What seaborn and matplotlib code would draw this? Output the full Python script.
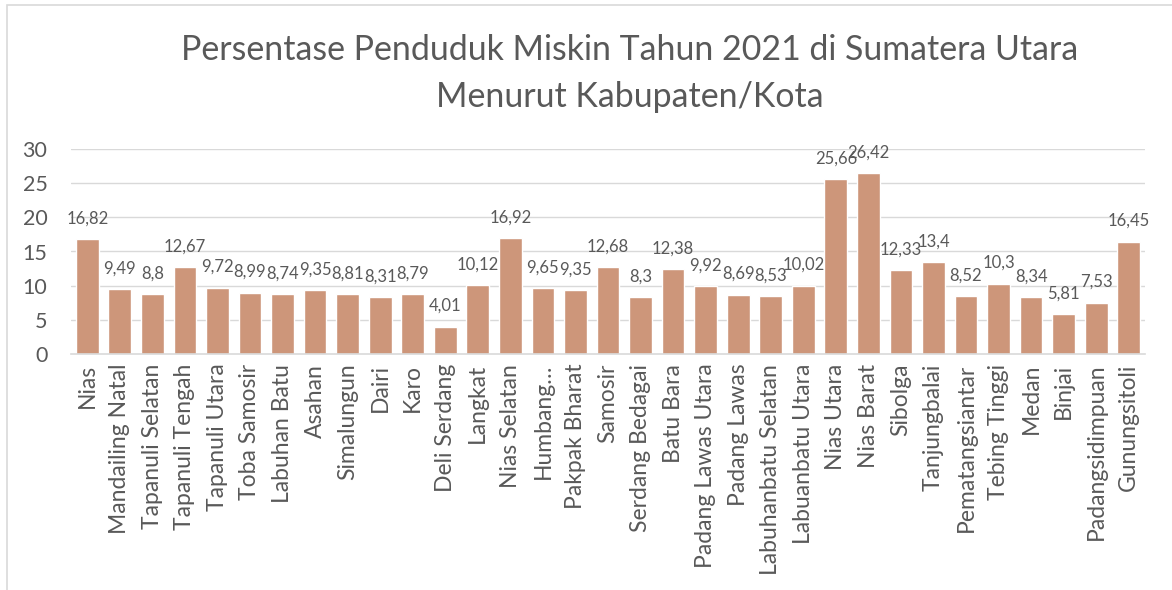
import matplotlib
matplotlib.use("Agg")
import matplotlib.pyplot as plt
import seaborn as sns
import pandas as pd
from matplotlib.patches import Rectangle

categories = ["Nias", "Mandailing Natal", "Tapanuli Selatan", "Tapanuli Tengah", "Tapanuli Utara",
              "Toba Samosir", "Labuhan Batu", "Asahan", "Simalungun", "Dairi", "Karo",
              "Deli Serdang", "Langkat", "Nias Selatan", "Humbang…", "Pakpak Bharat", "Samosir",
              "Serdang Bedagai", "Batu Bara", "Padang Lawas Utara", "Padang Lawas",
              "Labuhanbatu Selatan", "Labuanbatu Utara", "Nias Utara", "Nias Barat", "Sibolga",
              "Tanjungbalai", "Pematangsiantar", "Tebing Tinggi", "Medan", "Binjai",
              "Padangsidimpuan", "Gunungsitoli"]
values = [16.82, 9.49, 8.8, 12.67, 9.72, 8.99, 8.74, 9.35, 8.81, 8.31, 8.79, 4.01, 10.12, 16.92,
          9.65, 9.35, 12.68, 8.3, 12.38, 9.92, 8.69, 8.53, 10.02, 25.66, 26.42, 12.33, 13.4,
          8.52, 10.3, 8.34, 5.81, 7.53, 16.45]
yticks = [0, 5, 10, 15, 20, 25, 30]
title_lines = ["Persentase Penduduk Miskin Tahun 2021 di Sumatera Utara", "Menurut Kabupaten/Kota"]

sns.set_style("white")
plt.rcParams['font.family'] = ['Lato', 'DejaVu Sans']
TXT = '#595959'

df = pd.DataFrame({"cat": categories, "val": values})
fig = plt.figure(figsize=(11.72, 5.90), dpi=100)
ax = fig.add_axes([71/1172, 1-354/590, (1145-71)/1172, (354-149)/590])
sns.barplot(data=df, x="cat", y="val", color='#CD967A', saturation=1, width=0.7, ax=ax)

ax.set_ylim(0, 30)
ax.set_xlim(-0.5, len(categories) - 0.5)
ax.set_yticks(yticks)
ax.set_yticklabels([str(t) for t in yticks], fontsize=15.5, color=TXT)
ax.set_xticks(range(len(categories)))
ax.set_xticklabels(categories, rotation=90, fontsize=16.5, color=TXT)
ax.tick_params(axis='both', length=0)
ax.tick_params(axis='x', pad=7)
ax.tick_params(axis='y', pad=17)
ax.set_xlabel("")
ax.set_ylabel("")
for y in yticks[1:]:
    ax.axhline(y, color='#D9D9D9', lw=1, zorder=0)
for s in ['top', 'right', 'left']:
    ax.spines[s].set_visible(False)
ax.spines['bottom'].set_color('#D9D9D9')
ax.spines['bottom'].set_linewidth(1.2)
ax.set_axisbelow(True)

labels = [f"{v:g}".replace('.', ',') for v in values]
ax.bar_label(ax.containers[0], labels=labels, padding=9, fontsize=12, color=TXT)

fig.text(630/1172, 1-50/590, title_lines[0], ha='center', va='center', fontsize=24.4, color=TXT)
fig.text(630/1172, 1-97/590, title_lines[1], ha='center', va='center', fontsize=24.4, color=TXT)

fig.patches.append(Rectangle((7/1172, -0.1), 1.2, 1 - 5/590 + 0.1, transform=fig.transFigure,
                             fill=False, edgecolor='#D9D9D9', lw=1.2))

fig.savefig("out.png", dpi=100)
